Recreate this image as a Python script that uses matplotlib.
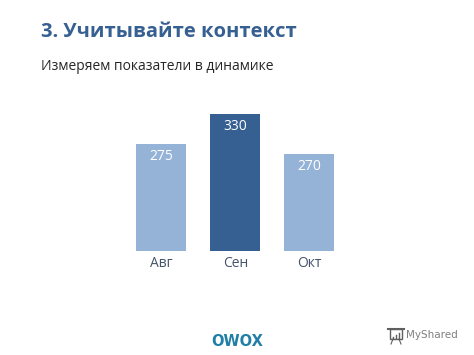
import matplotlib
matplotlib.use('Agg')
import matplotlib.pyplot as plt
from matplotlib.patches import Rectangle
from matplotlib.lines import Line2D

W = 474
H = 355

months = ['Авг', 'Сен', 'Окт']
labels = ['275', '330', '270']
# bar heights as drawn in the picture, the chart's axis is not strictly to scale
bar_heights = [258, 330, 233]
bar_colors = ['#95b3d7', '#376092', '#95b3d7']

title = '3. Учитывайте контекст'
subtitle = 'Измеряем показатели в динамике'

plt.rcParams['font.family'] = ['Open Sans', 'DejaVu Sans']

fig = plt.figure(figsize=(W / 100, H / 100), dpi=100, facecolor='white')

# axes placed by pixels so that the bars land where they are in the slide
left, right, top, bottom = 124.3, 346.3, 113.7, 251
ax = fig.add_axes([left / W, 1 - bottom / H, (right - left) / W, (bottom - top) / H])
x = list(range(len(months)))
bars = ax.bar(x, bar_heights, width=0.68, color=bar_colors)
ax.set_xlim(-0.5, 2.5)
ax.set_ylim(0, 330)
ax.set_yticks([])
ax.set_xticks(x)
ax.set_xticklabels(months, fontsize=10, color='#44546a')
ax.tick_params(axis='x', length=0, pad=3.5)
for s in ax.spines.values():
    s.set_visible(False)

for b, lab in zip(bars, labels):
    ax.annotate(lab, (b.get_x() + b.get_width() / 2, b.get_height()),
                xytext=(0, -3.5), textcoords='offset points', ha='center', va='top',
                fontsize=10, color='white')

fig.text(41 / W, 1 - 32 / H, title, fontsize=14.5, fontweight='bold', color='#376092',
         va='center', ha='left')
fig.text(41 / W, 1 - 67 / H, subtitle, fontsize=10, color='#262626', va='center', ha='left')

fig.text(237 / W, 1 - 341 / H, 'OWOX', family='DejaVu Sans', fontsize=10.5, fontweight='bold',
         color='#1f7fa6', va='center', ha='center')
fig.text(406 / W, 1 - 335 / H, 'MyShared', family='DejaVu Sans', fontsize=7.5, color='#7f7f7f',
         va='center', ha='left')


# small presentation board icon next to the watermark, in pixel coordinates
def px(xp, yp):
    return xp / W, 1 - yp / H


icon = '#5f5f5f'
fig.add_artist(Rectangle(px(390, 339), 12 / W, 10 / H, transform=fig.transFigure,
                         fill=False, edgecolor=icon, linewidth=1))
fig.add_artist(Line2D([388 / W, 404 / W], [1 - 329 / H, 1 - 329 / H], color=icon, linewidth=1.5))
for xp, yp in [(393, 337), (396, 335), (399, 333)]:
    fig.add_artist(Line2D([xp / W, xp / W], [1 - 338 / H, 1 - yp / H], color=icon, linewidth=1))
for x0, x1 in [(393, 391), (399, 401)]:
    fig.add_artist(Line2D([x0 / W, x1 / W], [1 - 339 / H, 1 - 344 / H], color=icon, linewidth=0.8))

fig.savefig('out.png', dpi=100)
